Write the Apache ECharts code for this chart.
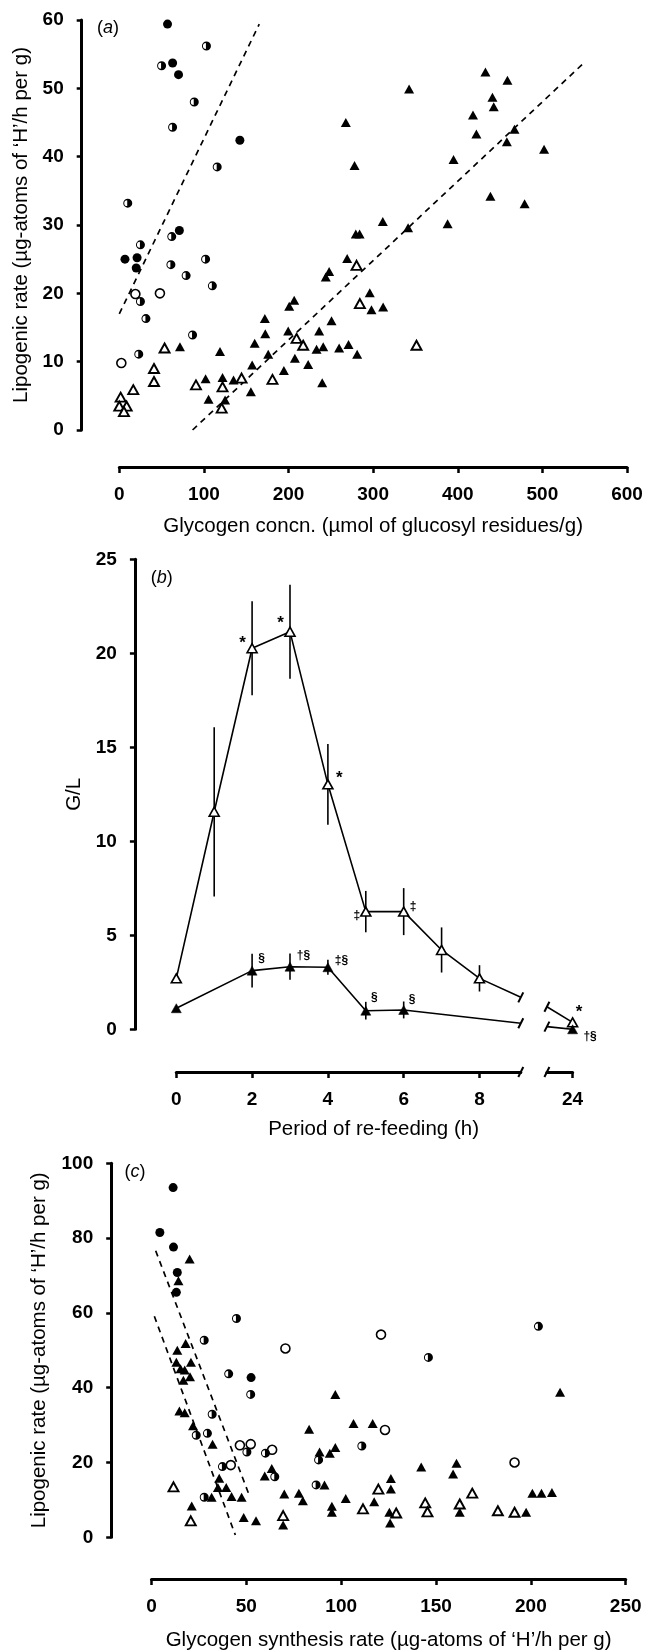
<!DOCTYPE html>
<html><head><meta charset="utf-8">
<script src="https://cdn.jsdelivr.net/npm/echarts@6/dist/echarts.min.js"></script>
<style>html,body{margin:0;padding:0;background:#fff}#c{width:649px;height:1652px}</style>
</head><body><div id="c"></div>
<script>
// ---------- Panel (a): lipogenic rate vs glycogen concn. ----------
const aFilledCircle = [[57,59.4],[63,53.7],[70,52.0],[142.5,42.4],[71,29.2],[6.7,25.0],[21,25.2],[20,23.7]];
const aHalfCircle = [[50,53.3],[103,56.2],[88.6,48.0],[63,44.3],[115.7,38.5],[10,33.2],[62,28.3],[25,27.1],[61,24.2],[102,25.0],[79,22.6],[110,21.1],[25,18.8],[31.5,16.3],[86.6,13.9],[23,11.1]];
const aOpenCircle = [[19,19.9],[48,20.0],[2.4,9.8]];
const aOpenTri = [[1.6,4.8],[0,3.5],[8.7,3.5],[5.5,2.7],[16.5,5.9],[41,9.0],[41,7.1],[53.5,12.0],[90.6,6.6],[122,6.3],[121,3.2],[144.5,7.6],[181,7.4],[280.4,24.1],[284.3,18.5],[209.5,13.4],[217.3,12.4],[351.2,12.4]];
const aFilledTri = [[71.7,12.2],[102,7.5],[105.5,4.5],[122,7.7],[119,11.5],[125,4.4],[135,7.3],[155.5,5.6],[157,9.5],[160,12.7],[172,16.3],[172.5,14.1],[176,11.1],[194.5,8.7],[200.8,18.1],[206.7,19.0],[199.6,14.5],[207.5,10.5],[223.2,9.6],[236.2,14.5],[233.1,11.8],[241,12.2],[239.8,6.9],[244,22.4],[248,23.2],[250.8,16.0],[259.8,12.0],[270.9,12.5],[281.1,11.1],[269.3,25.1],[296,20.1],[298,17.6],[311.8,18.0],[279.5,28.7],[284,28.7],[311.4,30.5],[341.3,29.6],[388,30.2],[267.7,45.0],[278,38.7],[342.5,49.9],[395,39.6],[418,46.1],[422,43.3],[432.7,52.4],[441,48.7],[442.5,47.3],[438.6,34.2],[458.7,51.2],[458,42.2],[467,44.0],[479,33.1],[502,41.1]];
const aFitCircles = [[0,17.0],[165.4,59.4]];
const aFitTriangles = [[86.6,0],[548,53.6]];
const aXTicks = [0,600,100]; // min, max, step
const aYTicks = [0,60,10];

// ---------- Panel (b): G/L vs period of re-feeding ----------
const bHours = [0,1,2,3,4,5,6,7,8,24];
const bUpper = [2.71,11.57,20.27,21.15,13.03,6.26,6.26,4.22,2.71,0.37];
const bUpperSem = [0,4.5,2.5,2.5,2.15,1.1,1.25,1.2,0.7,0];
const bLower = [1.12,null,3.12,3.33,3.30,0.99,1.03,null,null,0.0];
const bLowerSem = [0,0,0.9,0.7,0.4,0.47,0.45,0,0,0];
const bUpperMarks = ['','','*','*','*','‡','‡','','','*'];
const bLowerMarks = ['','','§','†§','‡§','§','§','','','†§'];
const bBreak = [9.09, 23.3];        // axis break: end of left part, start of right part (h)
const bUpperStubs = [1.70, 1.20];   // upper line values at the break ends
const bLowerStubs = [0.32, 0.14];   // lower line values at the break ends
const bTicksLeft = [0,2,4,6,8];
const bTicksRight = [24];
const bYTicks = [0,25,5];

// ---------- Panel (c): lipogenic rate vs glycogen synthesis rate ----------
const cFilledCircle = [[11.4,93.5],[4.4,81.5],[11.6,77.6],[13.6,70.8],[13.1,65.5],[52.5,42.7]];
const cHalfCircle = [[44.8,58.5],[27.8,52.7],[40.7,43.7],[52.3,38.2],[146,48.1],[204,56.4],[32,32.9],[23.6,27.3],[29.5,27.8],[50.3,22.8],[60.1,22.5],[37.4,18.9],[65,16.2],[88.1,20.7],[110.9,24.4],[27.8,10.7],[86.8,14.0]];
const cOpenCircle = [[70.6,50.5],[121,54.2],[46.6,24.6],[52.3,24.9],[63.6,23.4],[41.8,19.3],[123.1,28.7],[191.4,20.0]];
const cOpenTri = [[11.6,13.5],[20.7,4.4],[69.4,5.8],[111.5,7.6],[119.6,12.9],[129,6.5],[144.3,9.2],[145.5,6.8],[162.5,8.9],[169.1,11.8],[182.6,7.1],[191.4,6.7]];
const cFilledTri = [[20.1,74.4],[14.2,68.6],[13.6,50.0],[18,51.8],[13.1,46.8],[15.3,45.1],[17.5,44.7],[20.8,46.8],[20.3,42.9],[16.8,42.0],[14.7,33.8],[17.5,33.3],[96.9,38.2],[215.4,38.8],[21.9,29.8],[32.2,24.9],[63.4,18.4],[59.7,16.4],[83.1,28.9],[88.6,22.8],[94,22.5],[96.9,24.0],[106.5,30.4],[116.6,30.4],[160.8,19.8],[142.2,18.8],[159,16.9],[126.2,15.7],[126.2,12.9],[35.7,15.8],[35,13.3],[39.4,13.3],[42.2,10.9],[47.5,10.7],[31.7,10.7],[21.2,8.4],[48.6,5.3],[55.1,4.4],[70,11.6],[77.7,11.8],[79.8,9.8],[91.2,14.0],[69.4,3.3],[95.1,8.3],[95.1,6.7],[102.4,10.4],[117.4,9.5],[125.4,6.7],[125.8,3.8],[162.5,6.7],[197.5,6.7],[200.8,11.8],[205.6,11.8],[211.1,12.0]];
const cFitA = [[2.2,76.6],[51.8,10.9]];
const cFitB = [[1.5,59.1],[44.2,0.6]];
const cXTicks = [0,250,50];
const cYTicks = [0,100,20];

// ---------- Texts ----------
const panelLabels = ['a','b','c'];
const yNameLip = 'Lipogenic rate (µg-atoms of ‘H’/h per g)';
const xNameA = 'Glycogen concn. (µmol of glucosyl residues/g)';
const xNameB = 'Period of re-feeding (h)';
const yNameB = 'G/L';
const xNameC = 'Glycogen synthesis rate (µg-atoms of ‘H’/h per g)';

// ---------- Layout & style (not data) ----------
const FONT = "'Liberation Sans', Arial, sans-serif";
const NAME_FS = 20.5, TICK_FS = 19;
const L = {
  gridA: {left:119.3, top:20, width:507.7, height:410},
  gridB1:{left:176.3, top:559.3, width:344.5, height:470},
  gridB2:{left:546.9, top:559.3, width:25.7, height:470},
  gridC: {left:151.5, top:1163.3, width:474.2, height:375},
  offA:[37,37.6], offB:[42.7,41.4], offC:[41.7,40.3],
  labelPos:[[108,28],[161.8,578.3],[134.9,1171.7]]
};
const upperMarkOff = {2:[-9.5,-4.5],3:[-9.5,-8.5],4:[11.5,-6],5:[-9,4.5],6:[9.5,-5],9:[6.5,-10.5]};
const lowerMarkOff = {2:[9.5,-12],3:[13.5,-11.5],4:[13.5,-6.5],5:[8.5,-13.5],6:[8.5,-10],9:[17.5,7]};
const HALF = 'path://M0,-5A5,5,0,1,1,0,5A5,5,0,1,1,0,-5ZM-0.6,-3.3A3.3,3.3,0,0,0,-0.6,3.3Z';

function axisStyle(extra, isY){
  return Object.assign({
    axisLine:{show:true, onZero:false, lineStyle:{color:'#000', width:3}},
    axisTick:{show:true, length:isY?5:6, lineStyle:{color:'#000', width:2.5}},
    axisLabel:{color:'#000', fontSize:TICK_FS, fontWeight:'bold', fontFamily:FONT, margin:18},
    splitLine:{show:false},
    nameTextStyle:{color:'#000', fontSize:NAME_FS, fontFamily:FONT}
  }, extra);
}
function scat(data, gi, kind, size){
  const s = {type:'scatter', xAxisIndex:gi, yAxisIndex:gi, data:data, silent:true, z:3,
    symbolSize:size, itemStyle:{color:'#000', opacity:1}};
  if(kind==='fc'){ s.symbol='circle'; }
  else if(kind==='hc'){ s.symbol=HALF; }
  else if(kind==='oc'){ s.symbol='circle'; s.itemStyle={color:'#fff', borderColor:'#000', borderWidth:1.6, opacity:1}; }
  else if(kind==='ft'){ s.symbol='triangle'; }
  else if(kind==='ot'){ s.symbol='triangle'; s.itemStyle={color:'#fff', borderColor:'#000', borderWidth:1.9, opacity:1}; }
  return s;
}
function fit(data, gi){
  return {type:'line', xAxisIndex:gi, yAxisIndex:gi, data:data, symbol:'none', silent:true, z:2,
    lineStyle:{color:'#000', width:1.7, type:[6,5]}};
}
function errRender(params, api){
  const x=api.value(0), lo=api.value(1), hi=api.value(2);
  const p1=api.coord([x,lo]), p2=api.coord([x,hi]);
  return {type:'line', shape:{x1:p1[0],y1:p1[1],x2:p2[0],y2:p2[1]}, style:{stroke:'#000', lineWidth:1.6}};
}
function slashRender(params, api){
  const p=api.coord([api.value(0), api.value(1)]);
  const dy = api.value(2) ? L.offB[0] : 0;
  return {type:'line', shape:{x1:p[0]-2.5,y1:p[1]+dy+5,x2:p[0]+2.5,y2:p[1]+dy-5}, style:{stroke:'#000', lineWidth:2}};
}
function markLabel(txt, off){
  return {show:true, formatter:txt, position:'inside', offset:off, color:'#000', fontFamily:FONT,
    fontWeight:'bold', fontSize: txt==='*'?17:12};
}

// ---- build panel (b) series data ----
const bErrUpper=[], bErrLower=[];
const upLeft=[], lowLeft=[], upRight=[], lowRight=[];
bHours.forEach((h,i)=>{
  const left = h < bBreak[0];
  if(bUpperSem[i]>0) bErrUpper.push([h, bUpper[i]-bUpperSem[i], bUpper[i]+bUpperSem[i]]);
  if(bLowerSem[i]>0) bErrLower.push([h, bLower[i]-bLowerSem[i], bLower[i]+bLowerSem[i]]);
  const u={value:[h,bUpper[i]]};
  if(bUpperMarks[i]) u.label=markLabel(bUpperMarks[i], upperMarkOff[i]);
  (left?upLeft:upRight).push(u);
  if(bLower[i]!==null){
    const d={value:[h,bLower[i]]};
    if(bLowerMarks[i]) d.label=markLabel(bLowerMarks[i], lowerMarkOff[i]);
    (left?lowLeft:lowRight).push(d);
  }
});
upLeft.push({value:[bBreak[0],bUpperStubs[0]], symbol:'none'});
lowLeft.push({value:[bBreak[0],bLowerStubs[0]], symbol:'none'});
upRight.unshift({value:[bBreak[1],bUpperStubs[1]], symbol:'none'});
lowRight.unshift({value:[bBreak[1],bLowerStubs[1]], symbol:'none'});

function bLine(data, gi, open){
  return {type:'line', xAxisIndex:gi, yAxisIndex:gi, data:data, silent:true, z:4,
    symbol:'triangle', symbolSize:[10,9], showSymbol:true,
    lineStyle:{color:'#000', width:1.6},
    itemStyle: open?{color:'#fff', borderColor:'#000', borderWidth:1.6, opacity:1}:{color:'#000', borderColor:'#000', borderWidth:0.5, opacity:1},
    label:{show:false}};
}
function tickStyle(vals, isY){
  return {show:true, length:6, lineStyle:{color:'#000', width:2.5}, customValues:vals};
}
function labStyle(vals){
  return {color:'#000', fontSize:TICK_FS, fontWeight:'bold', fontFamily:FONT, margin:18, customValues:vals};
}

const chart = echarts.init(document.getElementById('c'), null, {renderer:'canvas'});
chart.setOption({
  animation:false,
  backgroundColor:'#fff',
  grid:[L.gridA, L.gridB1, L.gridB2, L.gridC].map(g=>Object.assign({containLabel:false}, g)),
  xAxis:[
    axisStyle({gridIndex:0, type:'value', min:aXTicks[0], max:aXTicks[1], interval:aXTicks[2], offset:L.offA[0],
      name:xNameA, nameLocation:'middle', nameGap:49}),
    axisStyle({gridIndex:1, type:'value', min:0, max:bBreak[0], offset:L.offB[0],
      axisTick:tickStyle(bTicksLeft), axisLabel:labStyle(bTicksLeft),
      name:xNameB, nameLocation:'middle', nameGap:47,
      nameTextStyle:{color:'#000', fontSize:NAME_FS, fontFamily:FONT, padding:[0,0,0,50]}}),
    axisStyle({gridIndex:2, type:'value', min:bBreak[1], max:bTicksRight[0], offset:L.offB[0],
      axisTick:tickStyle(bTicksRight), axisLabel:labStyle(bTicksRight)}),
    axisStyle({gridIndex:3, type:'value', min:cXTicks[0], max:cXTicks[1], interval:cXTicks[2], offset:L.offC[0],
      name:xNameC, nameLocation:'middle', nameGap:51})
  ],
  yAxis:[
    axisStyle({gridIndex:0, type:'value', min:aYTicks[0], max:aYTicks[1], interval:aYTicks[2], offset:L.offA[1],
      name:yNameLip, nameLocation:'middle', nameGap:37, nameRotate:90}, true),
    axisStyle({gridIndex:1, type:'value', min:bYTicks[0], max:bYTicks[1], interval:bYTicks[2], offset:L.offB[1],
      name:yNameB, nameLocation:'middle', nameGap:50, nameRotate:90}, true),
    {gridIndex:2, type:'value', min:bYTicks[0], max:bYTicks[1], show:false},
    axisStyle({gridIndex:3, type:'value', min:cYTicks[0], max:cYTicks[1], interval:cYTicks[2], offset:L.offC[1],
      name:yNameLip, nameLocation:'middle', nameGap:61, nameRotate:90}, true)
  ],
  graphic: panelLabels.map((t,i)=>({type:'text', x:L.labelPos[i][0], y:L.labelPos[i][1],
    style:{text:'({i|'+t+'})', rich:{i:{fontStyle:'italic', fontSize:18, fontFamily:FONT, fill:'#000'}},
      fontSize:18, fontFamily:FONT, fill:'#000', align:'center', verticalAlign:'middle'}})),
  series:[
    // panel a
    fit(aFitCircles,0), fit(aFitTriangles,0),
    scat(aOpenTri,0,'ot',[10,9]), scat(aFilledTri,0,'ft',[10,9]),
    scat(aOpenCircle,0,'oc',9), scat(aHalfCircle,0,'hc',9), scat(aFilledCircle,0,'fc',9),
    // panel b
    {type:'custom', xAxisIndex:1, yAxisIndex:1, data:bErrUpper.concat(bErrLower), renderItem:errRender, silent:true, z:2},
    bLine(upLeft,1,true), bLine(lowLeft,1,false),
    bLine(upRight,2,true), bLine(lowRight,2,false),
    {type:'custom', xAxisIndex:1, yAxisIndex:1, silent:true, z:5, renderItem:slashRender,
      data:[[bBreak[0],bUpperStubs[0],0],[bBreak[0],bLowerStubs[0],0],[bBreak[0],0,1]]},
    {type:'custom', xAxisIndex:2, yAxisIndex:2, silent:true, z:5, renderItem:slashRender,
      data:[[bBreak[1],bUpperStubs[1],0],[bBreak[1],bLowerStubs[1],0],[bBreak[1],0,1]]},
    // panel c
    fit(cFitA,3), fit(cFitB,3),
    scat(cOpenTri,3,'ot',[10,9]), scat(cFilledTri,3,'ft',[10,9]),
    scat(cOpenCircle,3,'oc',9), scat(cHalfCircle,3,'hc',9), scat(cFilledCircle,3,'fc',9)
  ]
});
</script></body></html>
